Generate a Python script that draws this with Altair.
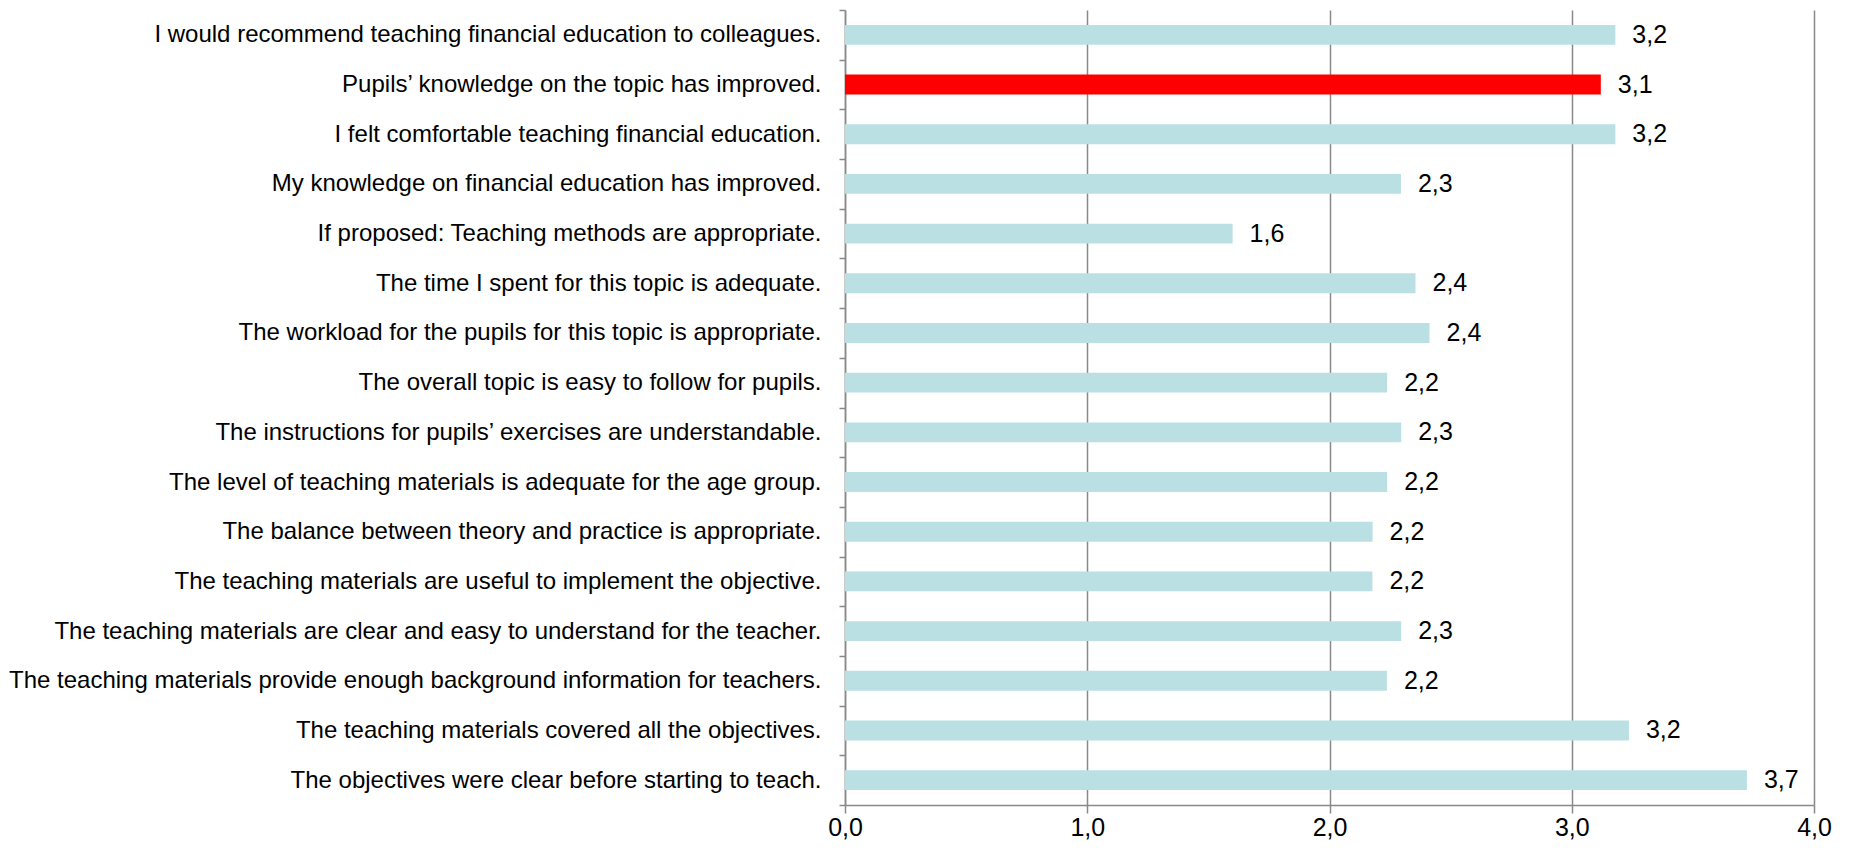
import altair as alt
import pandas as pd

categories = [
    "I would recommend teaching financial education to colleagues.",
    "Pupils’ knowledge on the topic has improved.",
    "I felt comfortable teaching financial education.",
    "My knowledge on financial education has improved.",
    "If proposed: Teaching methods are appropriate.",
    "The time I spent for this topic is adequate.",
    "The workload for the pupils for this topic is appropriate.",
    "The overall topic is easy to follow for pupils.",
    "The instructions for pupils’ exercises are understandable.",
    "The level of teaching materials is adequate for the age group.",
    "The balance between theory and practice is appropriate.",
    "The teaching materials are useful to implement the objective.",
    "The teaching materials are clear and easy to understand for the teacher.",
    "The teaching materials provide enough background information for teachers.",
    "The teaching materials covered all the objectives.",
    "The objectives were clear before starting to teach.",
]
values = [3.18, 3.12, 3.18, 2.295, 1.60, 2.355, 2.413, 2.238, 2.296, 2.238,
          2.178, 2.177, 2.296, 2.237, 3.236, 3.723]
value_labels = ["3,2", "3,1", "3,2", "2,3", "1,6", "2,4", "2,4", "2,2", "2,3",
                "2,2", "2,2", "2,2", "2,3", "2,2", "3,2", "3,7"]
highlighted = ["Pupils’ knowledge on the topic has improved."]
x_ticks = [0, 1, 2, 3, 4]

df = pd.DataFrame({"statement": categories, "score": values, "label": value_labels})

FONT = "Liberation Sans, Arial, Helvetica, sans-serif"
GRAY = "#898989"

y_enc = alt.Y(
    "statement:N",
    sort=categories,
    title=None,
    scale=alt.Scale(paddingInner=0, paddingOuter=0),
    axis=alt.Axis(
        tickBand="extent",
        ticks=True,
        tickSize=6,
        tickColor=GRAY,
        tickWidth=1.5,
        domainColor=GRAY,
        domainWidth=1.5,
        labelPadding=18,
        labelFontSize=24,
        labelFont=FONT,
        labelColor="black",
        labelLimit=1000,
        grid=False,
    ),
)

x_enc = alt.X(
    "score:Q",
    title=None,
    scale=alt.Scale(domain=[0, 4]),
    axis=alt.Axis(
        values=x_ticks,
        labelExpr="replace(format(datum.value, '.1f'), '.', ',')",
        grid=True,
        gridColor=GRAY,
        gridWidth=1.5,
        tickSize=8,
        tickColor=GRAY,
        tickWidth=1.5,
        domainColor=GRAY,
        domainWidth=1.5,
        labelPadding=2,
        labelFontSize=25,
        labelFont=FONT,
        labelColor="black",
        labelFlush=False,
    ),
)

bars = alt.Chart(df).mark_bar(height=alt.RelativeBandSize(0.4)).encode(
    x=x_enc,
    y=y_enc,
    color=alt.condition(
        alt.FieldOneOfPredicate(field="statement", oneOf=highlighted),
        alt.value("#FF0000"),
        alt.value("#BAE0E3"),
    ),
)

text = alt.Chart(df).mark_text(
    align="left", baseline="middle", dx=17, fontSize=25, font=FONT, color="black"
).encode(
    x=alt.X("score:Q"),
    y=alt.Y("statement:N", sort=categories),
    text="label:N",
)

chart = (
    (bars + text)
    .properties(
        width=969,
        height=795,
        padding={"left": 837, "top": 2, "right": 25, "bottom": 37},
        autosize=alt.AutoSizeParams(type="none"),
    )
    .configure_view(stroke=None)
)

chart.save("out.html", embed_options={"renderer": "svg", "actions": False})
